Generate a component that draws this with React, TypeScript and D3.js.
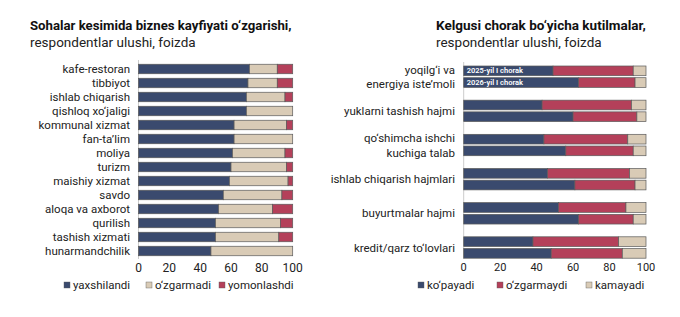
import React from 'react';
import * as d3 from 'd3';

// Left chart: business sentiment change by sector
const sectors = [
  'kafe-restoran', 'tibbiyot', 'ishlab chiqarish', 'qishloq xo‘jaligi', 'kommunal xizmat',
  'fan-ta’lim', 'moliya', 'turizm', 'maishiy xizmat', 'savdo',
  'aloqa va axborot', 'qurilish', 'tashish xizmati', 'hunarmandchilik',
];
const improved = [72, 71, 70, 70, 62, 62, 61, 60, 59, 55, 52, 50, 50, 47];
const unchanged = [18, 19, 25, 30, 34, 38, 34, 36, 38, 38, 35, 42, 41, 53];
const worsened = [10, 10, 5, 0, 4, 0, 5, 4, 3, 7, 13, 8, 9, 0];

// Right chart: expectations for next quarter
const indicators = [
  ['yoqilg‘i va', 'energiya iste’moli'],
  ['yuklarni tashish hajmi'],
  ['qo‘shimcha ishchi', 'kuchiga talab'],
  ['ishlab chiqarish hajmlari'],
  ['buyurtmalar hajmi'],
  ['kredit/qarz to‘lovlari'],
];
const periods = ['2025-yil I chorak', '2026-yil I chorak'];
const increase = [[49, 63], [43, 60], [44, 56], [46, 61], [52, 63], [38, 48]];
const noChange = [[44, 31], [49, 35], [46, 37], [45, 33], [37, 30], [47, 39]];
const decrease = [[7, 6], [8, 5], [10, 7], [9, 6], [11, 7], [15, 13]];

const ticks = [0, 20, 40, 60, 80, 100];

const NAVY = '#3a4a6e';
const RED = '#b4405a';
const BEIGE = '#d9cbb6';
const EDGE = '#5a5a5a';
const FONT = 'Roboto, "Noto Sans", sans-serif';

const leftLegend = [
  { label: 'yaxshilandi', color: NAVY },
  { label: 'o‘zgarmadi', color: BEIGE },
  { label: 'yomonlashdi', color: RED },
];
const rightLegend = [
  { label: 'ko‘payadi', color: NAVY },
  { label: 'o‘zgarmaydi', color: RED },
  { label: 'kamayadi', color: BEIGE },
];

const Segments = ({ x, y, h, parts }: { x: d3.ScaleLinear<number, number>; y: number; h: number; parts: { v: number; c: string }[] }) => {
  let acc = 0;
  return (
    <g>
      {parts.map((p, i) => {
        const x0 = x(acc);
        acc += p.v;
        if (p.v <= 0) return null;
        return (
          <rect key={i} x={x0} y={y} width={x(acc) - x0} height={h}
            fill={p.c} stroke={EDGE} strokeWidth={0.7} />
        );
      })}
    </g>
  );
};

const Legend = ({ items, xs, y }: { items: { label: string; color: string }[]; xs: number[]; y: number }) => (
  <g>
    {items.map((d, i) => (
      <g key={d.label} transform={`translate(${xs[i]},${y})`}>
        <rect x={0} y={-3} width={6} height={6} fill={d.color} stroke={EDGE} strokeWidth={0.4} />
        <text x={9} dy="0.35em" fontSize={11.5} fill="#222">{d.label}</text>
      </g>
    ))}
  </g>
);

export default function App() {
  // left chart scales
  const xL = d3.scaleLinear().domain([0, 100]).range([138.5, 292.7]);
  const yL = d3.scalePoint<string>().domain(sectors).range([69, 251]);
  const hL = 9.5;

  // right chart scales
  const xR = d3.scaleLinear().domain([0, 100]).range([463.7, 646]);
  const yR = d3.scalePoint<number>().domain(indicators.map((_, i) => i)).range([76.7, 247.5]);
  const hR = 9.7;
  const barOffset = (j: number) => (j === 0 ? -10.7 : 1);

  return (
    <svg width={680} height={317} style={{ position: 'absolute', left: 0, top: 0, fontFamily: FONT }}>
      <rect width={680} height={317} fill="#fff" />

      {/* Left titles */}
      <text x={30} y={30} fontSize={13.2} fontWeight={700} fill="#111">Sohalar kesimida biznes kayfiyati o‘zgarishi,</text>
      <text x={30} y={47} fontSize={13.5} fill="#222">respondentlar ulushi, foizda</text>

      {/* Left axis line */}
      <line x1={xL(0)} x2={xL(0)} y1={60} y2={259} stroke="#ccc" strokeWidth={1} />

      {sectors.map((s, i) => (
        <g key={s}>
          <text x={130} y={yL(s)} dy="0.35em" textAnchor="end" fontSize={11.5} fill="#222">{s}</text>
          <Segments x={xL} y={(yL(s) as number) - hL / 2} h={hL}
            parts={[{ v: improved[i], c: NAVY }, { v: unchanged[i], c: BEIGE }, { v: worsened[i], c: RED }]} />
        </g>
      ))}
      {ticks.map((t) => (
        <text key={t} x={xL(t)} y={268} dy="0.35em" textAnchor="middle" fontSize={12} fill="#222">{t}</text>
      ))}
      <Legend items={leftLegend} xs={[64, 146, 219]} y={285} />

      {/* Right titles */}
      <text x={436} y={30} fontSize={13.5} fontWeight={700} fill="#111">Kelgusi chorak bo‘yicha kutilmalar,</text>
      <text x={436} y={47} fontSize={13.5} fill="#222">respondentlar ulushi, foizda</text>

      <line x1={xR(0)} x2={xR(0)} y1={62} y2={259} stroke="#ccc" strokeWidth={1} />

      {indicators.map((lines, i) => {
        const cy = yR(i) as number;
        return (
          <g key={i}>
            {lines.map((ln, k) => (
              <text key={k} x={455} y={cy + (lines.length === 1 ? 0 : (k === 0 ? -7.2 : 7.6))} dy="0.35em"
                textAnchor="end" fontSize={11.5} fill="#222">{ln}</text>
            ))}
            {periods.map((p, j) => (
              <g key={p}>
                <Segments x={xR} y={cy + barOffset(j)} h={hR}
                  parts={[{ v: increase[i][j], c: NAVY }, { v: noChange[i][j], c: RED }, { v: decrease[i][j], c: BEIGE }]} />
                {i === 0 && (
                  <text x={xR(0) + 3} y={cy + barOffset(j) + hR / 2} dy="0.35em" fontSize={7.5}
                    fontWeight={600} fill="#fff">{p}</text>
                )}
              </g>
            ))}
          </g>
        );
      })}
      {ticks.map((t) => (
        <text key={t} x={xR(t)} y={267} dy="0.35em" textAnchor="middle" fontSize={11} fill="#222">{t}</text>
      ))}
      <Legend items={rightLegend} xs={[418, 497, 586]} y={285} />
    </svg>
  );
}
